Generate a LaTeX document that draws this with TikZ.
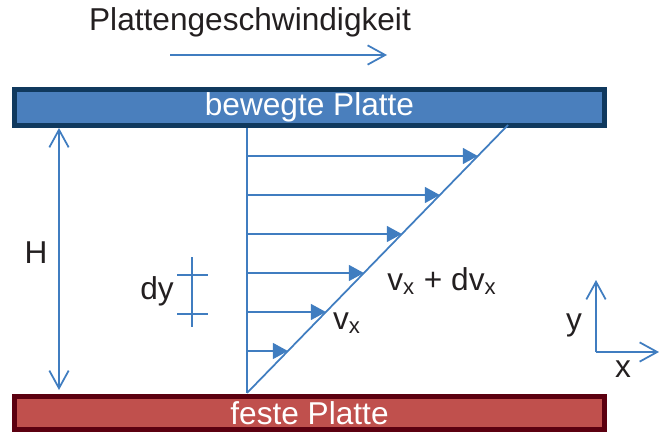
\documentclass[tikz,border=0pt]{standalone}
\usepackage{fontspec}
\setmainfont{Liberation Sans}
\usepackage{xcolor}
\usepackage{tikz}
\usetikzlibrary{arrows.meta, positioning, calc}

\definecolor{linie}{RGB}{64,125,192}
\definecolor{schrift}{RGB}{35,31,32}
\definecolor{blauplatte}{RGB}{74,127,189}
\definecolor{blaurand}{RGB}{16,57,94}
\definecolor{rotplatte}{RGB}{192,80,77}
\definecolor{rotrand}{RGB}{92,0,16}

\begin{document}
\begin{tikzpicture}[
      x=0.02cm, y=-0.02cm,
      every node/.style={text=schrift, font=\fontsize{18}{20}\selectfont, inner sep=0pt},
      platte/.style={draw, line width=2.8pt, minimum width=11.8cm, text=white},
      linie/.style={draw=linie, line width=1pt},
      profil/.style={linie, -{Triangle[length=8.5pt, width=9pt]}},
      offen/.style={linie, -{Straight Barb[length=10pt, width=11pt, line width=1pt]}},
      doppelt/.style={linie, {Straight Barb[length=10pt, width=11pt, line width=1pt]}-{Straight Barb[length=10pt, width=11pt, line width=1pt]}}
    ]
      \useasboundingbox (0,0) rectangle (659,432);
      % Platten
      \node[platte, fill=blauplatte, draw=blaurand, minimum height=0.72cm] (oben) at (309.5,107.5) {bewegte Platte};
      \node[platte, fill=rotplatte, draw=rotrand, minimum height=0.66cm] (unten) at (309.5,413) {feste Platte};
      % Geschwindigkeit der Platte
      \node (titel) at (250,22) {Plattengeschwindigkeit};
      \coordinate (pa) at (170,55);
      \coordinate (pb) at (387,55);
      \draw[offen] (pa) -- (pb);
      % Profil
      \coordinate (fuss) at (247,393);
      \coordinate (kopf) at (508,125);
      \draw[linie] (fuss) -- (fuss |- oben.south);
      \draw[linie] (fuss) -- (kopf);
      \foreach \y [evaluate=\y as \t using (393-\y)/268] in {156,195,...,351}
        \draw[profil] (247,\y) -- ($(fuss)!\t!(kopf)$);
      \node (vx) at (347,323) {v\textsubscript{x}};
      \node (vxdvx) at (442,281) {v\textsubscript{x} + dv\textsubscript{x}};
      % Hoehe H
      \coordinate (ha) at (59,390);
      \draw[doppelt] (ha) -- (ha |- oben.south);
      \node (h) at (36,253) {H};
      % dy
      \coordinate (dya) at (192,257);
      \coordinate (dyb) at (192,327);
      \draw[linie] (dya) -- (dyb);
      \draw[linie] (177,275) -- (208,275);
      \draw[linie] (177,314) -- (208,314);
      \node (dy) at (157,291) {dy};
      % Achsen
      \coordinate (ursprung) at (596,352);
      \draw[offen] (ursprung) -- (596,280);
      \draw[offen] (ursprung) -- (659,352);
      \node (ylab) at (574,325) {y};
      \node (xlab) at (623,369) {x};
    \end{tikzpicture}
\end{document}
